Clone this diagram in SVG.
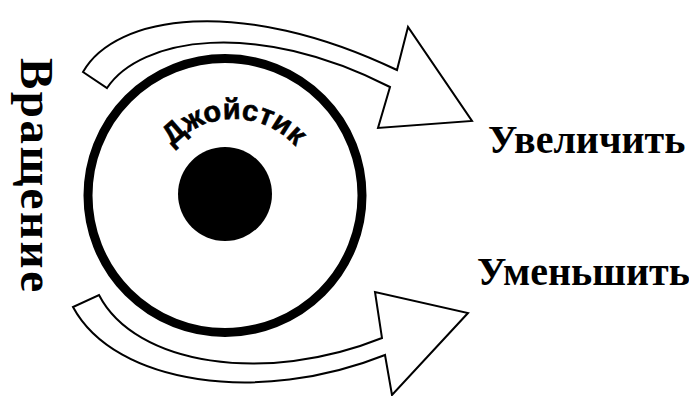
<svg xmlns="http://www.w3.org/2000/svg" width="689" height="396" viewBox="0 0 689 396">
<style>
.arrow{fill:#fff;stroke:#000;stroke-width:2;stroke-linejoin:miter}
.serif{font-family:"Liberation Serif","Times New Roman",serif;font-weight:bold;fill:#000}
.sans{font-family:"Liberation Sans",Arial,sans-serif;font-weight:bold;fill:#000;stroke:#000;stroke-width:0.6}
</style>
<defs>
<path id="arcPath" d="M156.95,172.95 A82,82 0 0 1 311.05,172.95"/>
</defs>
<rect width="689" height="396" fill="#fff"/>
<g id="joystick">
<circle cx="225" cy="195.5" r="137" fill="none" stroke="#000" stroke-width="9"/>
<circle cx="225" cy="194" r="47" fill="#000"/>
<text class="sans" font-size="29"><textPath href="#arcPath" startOffset="50%" text-anchor="middle">Джойстик</textPath></text>
</g>
<g id="label-rotation">
<text class="serif" font-size="47" transform="translate(21,58) rotate(90)" textLength="234" lengthAdjust="spacing">Вращение</text>
</g>
<g id="label-increase">
<text class="serif" font-size="40" x="488" y="153">Увеличить</text>
</g>
<g id="label-decrease">
<text class="serif" font-size="40" x="477" y="285">Уменьшить</text>
</g>
<g id="connectors">
<path id="arrow-increase" class="arrow" d="M83,72 C115,15 240,-5 397,70 L408,27 L472,121 L378,128 L390,87 C255,18 140,38 107,88 Z"/>
<path id="arrow-decrease" class="arrow" d="M73,307 C115,385 260,405 385,355 L392,395 L468,313 L375,292 L382,338 C265,385 135,365 99,295 Z"/>
</g>
</svg>
